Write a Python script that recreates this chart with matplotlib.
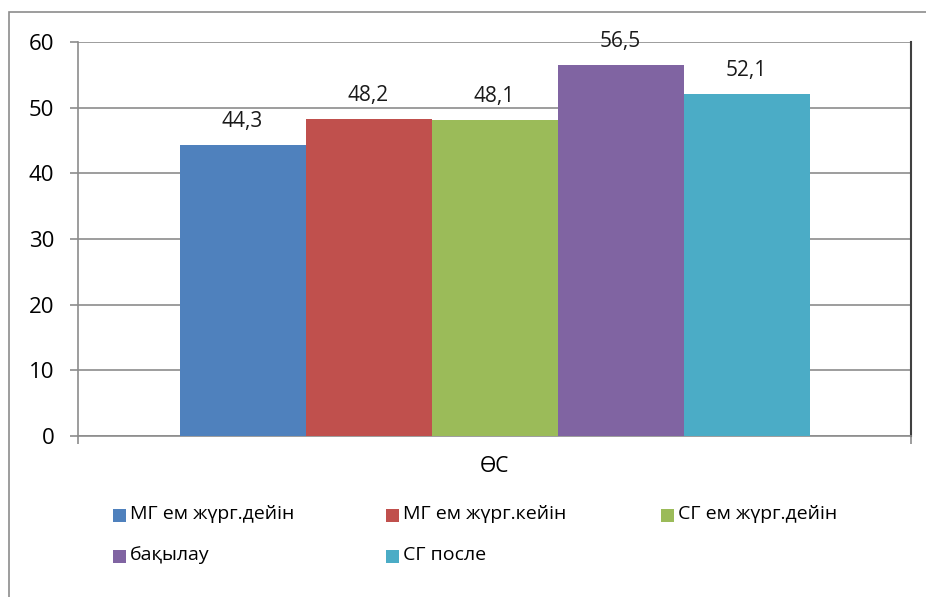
import matplotlib
matplotlib.use("Agg")
import matplotlib.pyplot as plt
from matplotlib.patches import Rectangle

plt.rcParams['font.family'] = ['Open Sans', 'DejaVu Sans']

category = "ӨС"
series = ["МГ ем жүрг.дейін", "МГ ем жүрг.кейін", "СГ ем жүрг.дейін", "бақылау", "СГ после"]
values = [44.3, 48.2, 48.1, 56.5, 52.1]
colors = ["#4f81bd", "#c0504d", "#9bbb59", "#8064a2", "#4bacc6"]
yticks = [0, 10, 20, 30, 40, 50, 60]

W, H = 926, 597
fig = plt.figure(figsize=(W / 100, H / 100), dpi=100)
fig.patch.set_facecolor("white")

# plot area in pixel terms
left, right, top, bottom = 78, 911, 42, 436
ax = fig.add_axes([left / W, 1 - bottom / H, (right - left) / W, (bottom - top) / H])

bar_w = 126 / (right - left)
n = len(values)
offsets = [(i - (n - 1) / 2) * bar_w for i in range(n)]
for off, v, c, name in zip(offsets, values, colors, series):
    ax.bar(off, v, width=bar_w, color=c, label=name, zorder=3)
    ax.annotate(f"{v:.1f}".replace(".", ","), (off, v), xytext=(0, 13),
                textcoords="offset points", ha="center", va="baseline",
                fontsize=15, color="#1a1a1a")

ax.set_xlim(-0.5, 0.5)
ax.set_ylim(0, 60)
ax.set_yticks(yticks)
ax.set_yticklabels([str(t) for t in yticks], fontsize=16)
ax.set_xticks([-0.5, 0.5])
ax.set_xticklabels([])
ax.yaxis.grid(True, color="#8c8c8c", linewidth=1.2, zorder=0)
ax.tick_params(axis="y", length=6, width=1.2, color="#8c8c8c", pad=11)
ax.tick_params(axis="x", length=6, width=1.2, color="#8c8c8c", direction="out")
for s in ["left", "bottom"]:
    ax.spines[s].set_color("#8c8c8c")
    ax.spines[s].set_linewidth(1.2)
ax.spines["top"].set_visible(False)
ax.spines["right"].set_color("#404040")
ax.spines["right"].set_linewidth(1.5)

fig.text(494 / W, 1 - 467 / H, category, ha="center", va="center", fontsize=15)

# legend
pos = [(113, 515), (386, 515), (661, 515), (113, 556), (386, 556)]
for (px, py), c, name in zip(pos, colors, series):
    fig.patches.append(Rectangle((px / W, 1 - (py + 6.5) / H), 13 / W, 13 / H,
                                 transform=fig.transFigure, facecolor=c,
                                 edgecolor="none"))
    fig.text((px + 17) / W, 1 - (py - 1) / H, name, ha="left", va="center", fontsize=14)

# outer chart frame
fig.patches.append(Rectangle((9 / W, -0.1), 1.2, 1 - 12 / H + 0.1,
                             transform=fig.transFigure, facecolor="none",
                             edgecolor="#8c8c8c", linewidth=1.2))

fig.savefig("out.png", dpi=100)
